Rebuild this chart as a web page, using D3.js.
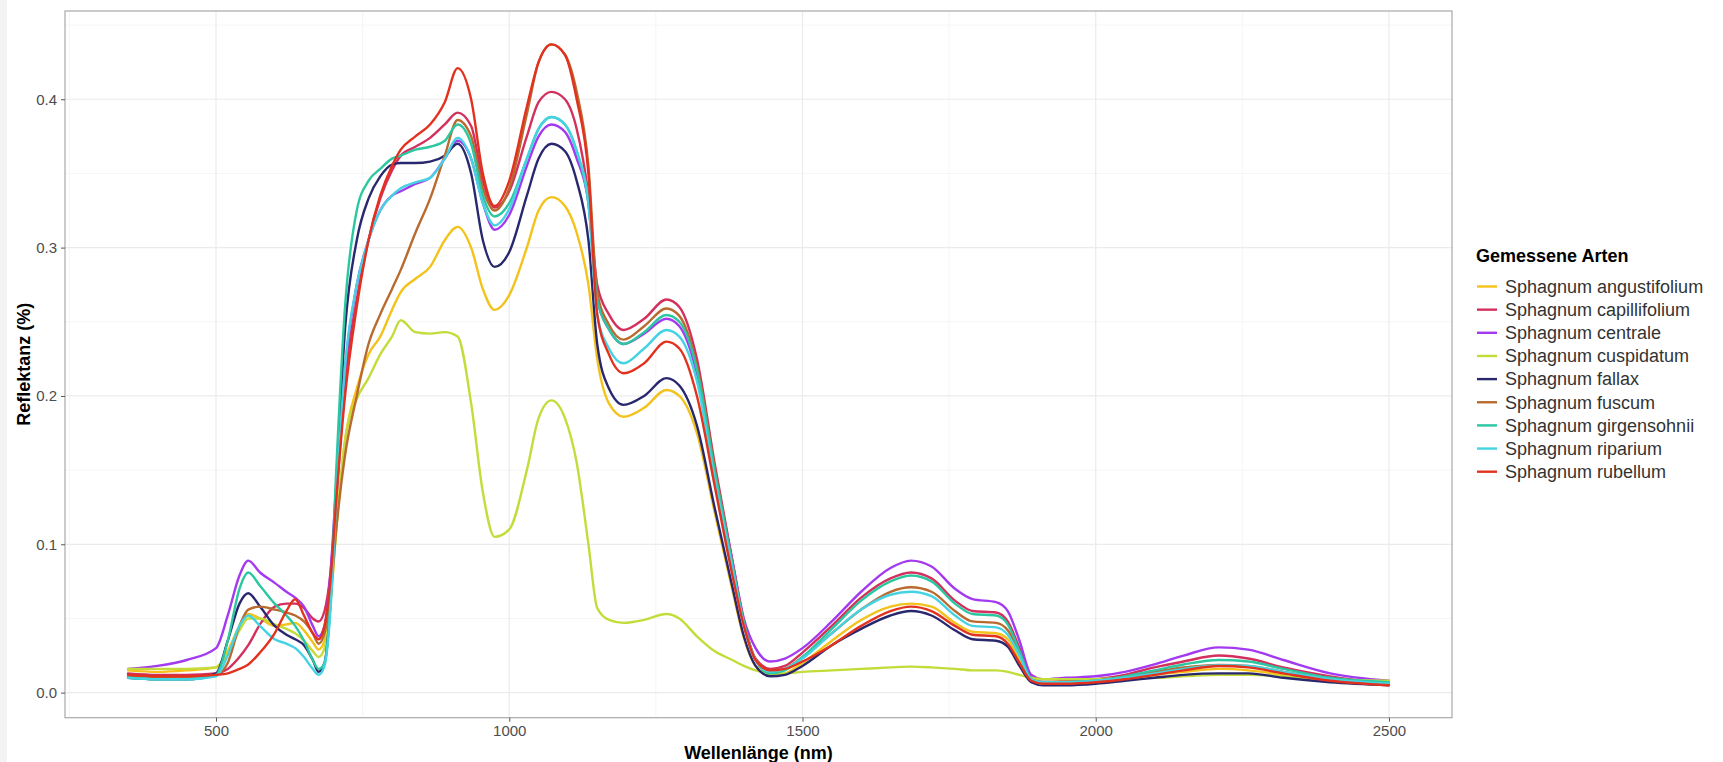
<!DOCTYPE html>
<html>
<head>
<meta charset="utf-8">
<script src="https://cdn.jsdelivr.net/npm/d3@7"></script>
<style>
  html, body { margin: 0; padding: 0; background: #ffffff; }
  svg { display: block; }
  text { font-family: "Liberation Sans", Arial, sans-serif; }
</style>
</head>
<body>
<svg id="chart" width="1723" height="762"></svg>
<script>
// ---------- DATA ----------
const wavelengths = [350,400,450,500,520,540,555,575,600,620,635,650,665,675,685,695,705,720,740,760,780,800,815,840,865,890,912,935,955,975,1000,1030,1050,1072,1095,1115,1135,1150,1170,1195,1230,1268,1290,1320,1350,1380,1400,1420,1445,1470,1500,1550,1600,1650,1685,1720,1760,1790,1830,1850,1870,1890,1910,1950,2000,2050,2100,2150,2210,2260,2320,2400,2500];

const speciesNames = ["Sphagnum angustifolium","Sphagnum capillifolium","Sphagnum centrale","Sphagnum cuspidatum","Sphagnum fallax","Sphagnum fuscum","Sphagnum girgensohnii","Sphagnum riparium","Sphagnum rubellum"];

const angustifolium = [.015,.014,.015,.017, .028,.045,.053,.050, .045,.046,.047,.042, .034,.029,.035,.060, .110,.170,.205,.228, .240,.258,.270,.279, .287,.305,.314,.300, .272,.258,.268,.300, .325,.334,.328,.310, .275,.225,.195,.186, .192,.204,.200,.175, .122,.070,.037,.018, .012,.013,.020,.035, .049,.058,.060,.058, .047,.041,.040,.036, .022,.008,.006,.006, .007,.009,.012,.014, .016,.015,.012,.008, .006];
const capillifolium = [.013,.012,.012,.013, .016,.024,.032,.046, .058,.060,.060,.057, .050,.048,.055,.080, .130,.210,.265,.305, .333,.352,.362,.368, .374,.383,.391,.382, .345,.327,.338,.375, .398,.405,.400,.380, .335,.275,.255,.2445, .252,.265,.260,.225, .155,.090,.048,.023, .016,.018,.027,.045, .064,.077,.081,.077, .062,.055,.054,.048, .030,.010,.007,.008, .009,.012,.017,.021, .025,.023,.017,.011, .006];
const centrale = [.016,.018,.022,.030, .052,.079,.089,.081, .074,.068,.064,.058, .045,.038,.045,.080, .140,.220,.275,.305, .325,.335,.338,.343, .347,.360,.372,.360, .330,.312,.322,.355, .375,.383,.378,.360, .330,.265,.245,.235, .242,.252,.247,.215, .150,.090,.050,.030, .021,.023,.030,.048, .068,.084,.089,.085, .070,.063,.061,.055, .035,.012,.009,.010, .011,.014,.019,.025, .0305,.029,.022,.013, .008];
const cuspidatum = [.016,.016,.016,.017, .026,.042,.050,.050, .046,.043,.040,.035, .028,.024,.030,.060, .110,.170,.198,.212, .228,.240,.251,.243, .242,.243,.240,.195, .135,.105,.110,.150, .185,.197,.185,.155, .100,.057,.049,.047, .049,.053,.050,.038, .028,.022,.018,.015, .013,.013,.014,.015, .016,.017,.0175,.017, .016,.015,.015,.014, .012,.010,.009,.009, .009,.010,.010,.011, .012,.012,.011,.009, .008];
const fallax = [.010,.009,.009,.013, .035,.060,.067,.058, .045,.039,.036,.032, .022,.014,.020,.060, .140,.245,.305,.333, .348,.356,.357,.357, .358,.362,.370,.350, .305,.287,.297,.335, .360,.370,.365,.345, .305,.235,.205,.194, .200,.212,.207,.180, .125,.072,.038,.018, .011,.012,.018,.032, .043,.052,.055,.052, .042,.036,.035,.031, .018,.007,.005,.005, .006,.008,.010,.012, .013,.013,.010,.007, .005];
const fuscum = [.011,.010,.010,.012, .020,.045,.056,.058, .056,.054,.052,.048, .040,.033,.040,.065, .110,.160,.200,.235, .255,.272,.285,.310, .333,.362,.386,.375, .340,.325,.340,.390, .425,.437,.430,.405, .355,.270,.248,.238, .247,.259,.254,.220, .152,.088,.048,.022, .014,.016,.024,.040, .056,.068,.071,.068, .055,.048,.047,.042, .027,.009,.007,.007, .008,.011,.014,.017, .0187,.018,.014,.009, .006];
const girgensohnii = [.010,.009,.009,.012, .035,.070,.081,.072, .060,.052,.045,.035, .022,.016,.020,.060, .150,.260,.325,.345, .353,.360,.362,.366, .368,.372,.383,.370, .335,.321,.330,.360, .380,.388,.383,.365, .330,.265,.245,.235, .243,.2546,.250,.218, .150,.087,.047,.022, .013,.015,.024,.043, .062,.075,.079,.075, .060,.053,.052,.046, .028,.009,.006,.007, .008,.011,.015,.019, .022,.021,.016,.010, .007];
const riparium = [.010,.009,.009,.011, .025,.045,.052,.045, .036,.033,.030,.024, .016,.012,.018,.055, .130,.220,.275,.305, .325,.335,.340,.344, .347,.360,.374,.360, .330,.315,.326,.360, .380,.388,.383,.365, .330,.255,.232,.222, .232,.2445,.240,.210, .145,.085,.046,.022, .014,.016,.023,.040, .056,.066,.068,.065, .052,.045,.044,.039, .025,.009,.007,.007, .008,.010,.013,.016, .0185,.018,.014,.009, .006];
const rubellum = [.012,.011,.011,.012, .013,.016,.019,.027, .040,.055,.063,.052, .040,.036,.045,.075, .130,.200,.260,.305, .335,.355,.366,.375, .383,.398,.421,.400, .350,.328,.345,.395, .425,.437,.430,.400, .350,.255,.228,.2153, .222,.2366,.232,.200, .140,.080,.045,.022, .015,.016,.021,.032, .045,.055,.058,.055, .045,.039,.038,.033, .020,.008,.006,.006, .007,.009,.012,.015, .018,.017,.013,.008, .005];

const seriesValues = [angustifolium, capillifolium, centrale, cuspidatum, fallax, fuscum, girgensohnii, riparium, rubellum];
const seriesColors = ["#F3C21B","#D3305E","#A33AF0","#C4DC3A","#29286F","#B96A2E","#2BC7A0","#45D3E3","#E2321F"];

const xTicks = [500, 1000, 1500, 2000, 2500];
const xMinor = [250, 750, 1250, 1750, 2250];
const yTicks = [0.0, 0.1, 0.2, 0.3, 0.4];
const yMinor = [0.05, 0.15, 0.25, 0.35, 0.45];

const xTitle = "Wellenlänge (nm)";
const yTitle = "Reflektanz (%)";
const legendTitle = "Gemessene Arten";

// ---------- LAYOUT ----------
const svg = d3.select("#chart");
const P = { left: 65, right: 1452, top: 11, bottom: 717.7 };

const x = d3.scaleLinear().domain([242.5, 2607.5]).range([P.left, P.right]);
const y = d3.scaleLinear().domain([-0.0169, 0.4595]).range([P.bottom, P.top]);

// left light strip (frame of the screenshot)
svg.append("rect").attr("x", 0).attr("y", 0).attr("width", 7).attr("height", 762).attr("fill", "#f3f3f3");

// panel background
svg.append("rect").attr("x", P.left).attr("y", P.top)
  .attr("width", P.right - P.left).attr("height", P.bottom - P.top).attr("fill", "#ffffff");

const grid = svg.append("g");
// minor grid
grid.selectAll(".vmin").data(xMinor.filter(d => x(d) > P.left && x(d) < P.right)).enter().append("line")
  .attr("x1", d => x(d)).attr("x2", d => x(d)).attr("y1", P.top).attr("y2", P.bottom)
  .attr("stroke", "#f2f2f2").attr("stroke-width", 0.8);
grid.selectAll(".hmin").data(yMinor.filter(d => y(d) > P.top && y(d) < P.bottom)).enter().append("line")
  .attr("x1", P.left).attr("x2", P.right).attr("y1", d => y(d)).attr("y2", d => y(d))
  .attr("stroke", "#f2f2f2").attr("stroke-width", 0.8);
// major grid
grid.selectAll(".vmaj").data(xTicks).enter().append("line")
  .attr("x1", d => x(d)).attr("x2", d => x(d)).attr("y1", P.top).attr("y2", P.bottom)
  .attr("stroke", "#ebebeb").attr("stroke-width", 1.2);
grid.selectAll(".hmaj").data(yTicks).enter().append("line")
  .attr("x1", P.left).attr("x2", P.right).attr("y1", d => y(d)).attr("y2", d => y(d))
  .attr("stroke", "#ebebeb").attr("stroke-width", 1.2);

// lines
const line = d3.line()
  .x(d => x(d[0]))
  .y(d => y(d[1]))
  .curve(d3.curveMonotoneX);

const linesG = svg.append("g");
seriesValues.forEach((vals, i) => {
  const pts = wavelengths.map((w, j) => [w, vals[j]]);
  linesG.append("path")
    .datum(pts)
    .attr("d", line)
    .attr("fill", "none")
    .attr("stroke", seriesColors[i])
    .attr("stroke-width", 2.4)
    .attr("stroke-linejoin", "round")
    .attr("stroke-linecap", "round");
});

// panel border
svg.append("rect").attr("x", P.left).attr("y", P.top)
  .attr("width", P.right - P.left).attr("height", P.bottom - P.top)
  .attr("fill", "none").attr("stroke", "#a9a9a9").attr("stroke-width", 1.2);

// axes
const xAxis = d3.axisBottom(x).tickValues(xTicks).tickSize(4).tickPadding(4).tickFormat(d3.format("d"));
const gx = svg.append("g").attr("transform", `translate(0,${P.bottom})`).call(xAxis);
gx.select(".domain").remove();
gx.selectAll(".tick line").attr("stroke", "#555").attr("stroke-width", 1);
gx.selectAll(".tick text").attr("fill", "#4d4d4d").style("font-size", "15px")
  .style("font-family", "'Liberation Sans', Arial, sans-serif");

const yAxis = d3.axisLeft(y).tickValues(yTicks).tickSize(4).tickPadding(4).tickFormat(d3.format(".1f"));
const gy = svg.append("g").attr("transform", `translate(${P.left},0)`).call(yAxis);
gy.select(".domain").remove();
gy.selectAll(".tick line").attr("stroke", "#555").attr("stroke-width", 1);
gy.selectAll(".tick text").attr("fill", "#4d4d4d").style("font-size", "15px")
  .style("font-family", "'Liberation Sans', Arial, sans-serif");

// axis titles
svg.append("text")
  .attr("x", (P.left + P.right) / 2).attr("y", 759)
  .attr("text-anchor", "middle")
  .style("font-size", "18px").style("font-weight", "bold").attr("fill", "#000")
  .text(xTitle);
svg.append("text")
  .attr("transform", `translate(30,${(P.top + P.bottom) / 2}) rotate(-90)`)
  .attr("text-anchor", "middle")
  .style("font-size", "18px").style("font-weight", "bold").attr("fill", "#000")
  .text(yTitle);

// legend
const lg = svg.append("g");
lg.append("text").attr("x", 1476).attr("y", 262)
  .style("font-size", "18px").style("font-weight", "bold").attr("fill", "#000")
  .text(legendTitle);
speciesNames.forEach((name, i) => {
  const cy = 286.5 + i * 23.15;
  lg.append("line").attr("x1", 1477).attr("x2", 1497).attr("y1", cy).attr("y2", cy)
    .attr("stroke", seriesColors[i]).attr("stroke-width", 2.4);
  lg.append("text").attr("x", 1505).attr("y", cy + 6.3)
    .style("font-size", "18px").attr("fill", "#333")
    .text(name);
});
</script>
</body>
</html>
